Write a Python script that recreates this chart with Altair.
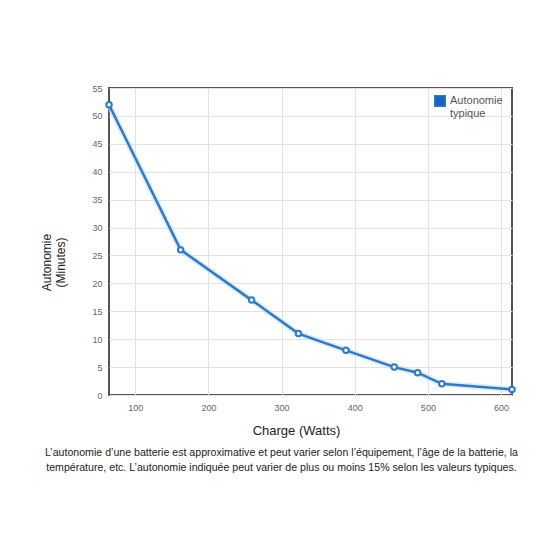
import altair as alt
import pandas as pd

watts = [64, 162, 259, 323, 388, 454, 486, 519, 615]
minutes = [52, 26, 17, 11, 8, 5, 4, 2, 1]
series = ["Autonomie typique"] * len(watts)
x_ticks = [100, 200, 300, 400, 500, 600]
y_ticks = list(range(0, 56, 5))
footnote = [
    "L\u2019autonomie d\u2019une batterie est approximative et peut varier selon l\u2019\u00e9quipement, l\u2019\u00e2ge de la batterie, la",
    "temp\u00e9rature, etc. L\u2019autonomie indiqu\u00e9e peut varier de plus ou moins 15% selon les valeurs typiques.",
]

df = pd.DataFrame({"watts": watts, "minutes": minutes, "serie": series})
blue = "#2b7bc9"

x = alt.X(
    "watts:Q",
    scale=alt.Scale(domain=[min(watts), max(watts)], nice=False, zero=False),
    axis=alt.Axis(
        values=x_ticks, title="Charge (Watts)", titleFontSize=13, titleFontWeight="normal",
        titleColor="#222", labelFontSize=9, labelColor="#666", ticks=False, domain=False,
        gridColor="#e2e2e2", labelPadding=8, titleX=187, titleY=29, titleFont="Liberation Sans",
        labelFont="Liberation Sans",
    ),
)
y = alt.Y(
    "minutes:Q",
    scale=alt.Scale(domain=[0, 55], nice=False),
    axis=alt.Axis(
        values=y_ticks, title=["Autonomie", "(Minutes)"], titleFontSize=12, titleFontWeight="normal",
        titleColor="#222", labelFontSize=9, labelColor="#666", ticks=False, domain=False,
        gridColor="#e2e2e2", labelPadding=7, titleX=-56, titleY=174, titleAngle=-90,
        titleFont="Liberation Sans", labelFont="Liberation Sans",
    ),
)
color = alt.Color(
    "serie:N",
    scale=alt.Scale(range=[blue]),
    legend=alt.Legend(
        title=None, orient="none", legendX=323, legendY=5, symbolType="square",
        symbolFillColor="#1565c0", symbolStrokeColor="#1565c0", symbolSize=110,
        labelExpr="['Autonomie', 'typique']", labelFontSize=11, labelColor="#555",
        labelFont="Liberation Sans", padding=2,
    ),
)

shadow = alt.Chart(df).mark_line(color="#cfe0f3", strokeWidth=6, opacity=0.6).encode(x=x, y=y)
line = alt.Chart(df).mark_line(strokeWidth=2.5).encode(x=x, y=y, color=color)
pts = alt.Chart(df).mark_point(filled=True, fill="white", stroke=blue, strokeWidth=2, size=30, opacity=1).encode(x=x, y=y)

chart = (
    alt.layer(shadow, line, pts)
    .properties(
        width=403, height=307,
        autosize=alt.AutoSizeParams(type="none"),
        padding={"left": 101, "top": 80, "right": 40, "bottom": 90},
        view=alt.ViewBackground(stroke="#555", strokeWidth=2, fill="white"),
        title=alt.TitleParams(
            text=footnote, orient="bottom", anchor="middle", fontSize=10.6, fontWeight="normal",
            color="#222", font="Liberation Sans", offset=11, dx=-29, lineHeight=14.5,
        ),
    )
    .configure(background="white")
)

chart.save("out.html", embed_options={"renderer": "svg", "actions": False})
